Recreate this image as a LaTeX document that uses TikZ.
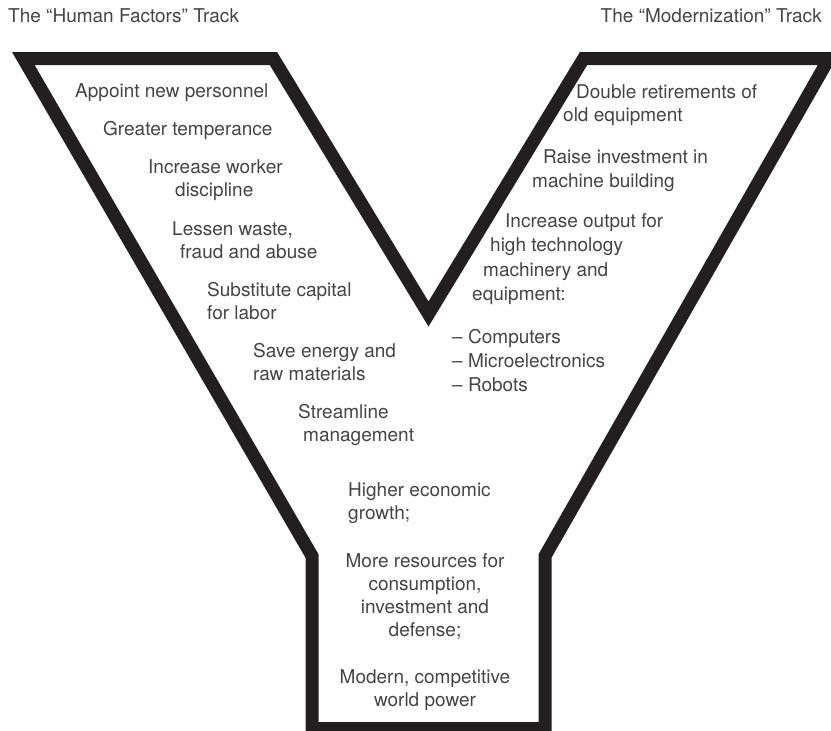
\documentclass[tikz,border=0pt]{standalone}
\usepackage{fontspec}
\setmainfont{TeX Gyre Heros}
\definecolor{band}{HTML}{231F20}
\definecolor{txt}{HTML}{444444}
\begin{document}
\begin{tikzpicture}[x=1pt,y=-1pt,
  lbl/.style={anchor=base west, inner sep=0pt, text=txt, font=\fontsize{19}{23}\selectfont},
  clbl/.style={lbl, anchor=base},
  yband/.style={draw=band, line width=13pt, line join=miter, miter limit=10}]
\useasboundingbox (0,0) rectangle (831,731);
\clip (0,0) rectangle (831,731);
% centre line of the Y outline
\coordinate (A) at (23.3,58.5);
\coordinate (H) at (273.4,58.5);
\coordinate (I) at (428.5,314);
\coordinate (J) at (583.6,58.5);
\coordinate (F) at (829,58.5);
\coordinate (E) at (545,556);
\coordinate (D) at (545,728.5);
\coordinate (C) at (312,728.5);
\coordinate (B) at (312,556);
\draw[yband] (A) -- (H) -- (I) -- (J) -- (F) -- (E) -- (D) -- (C) -- (B) -- cycle;
% titles
\node[lbl] (t1) at (8,22) {The “Human Factors” Track};
\node[lbl, anchor=base east] (t2) at (822,22) {The “Modernization” Track};
% left arm
\node[lbl] (l1) at (75,97) {Appoint new personnel};
\node[lbl] (l2) at (103,135) {Greater temperance};
\node[lbl] (l3) at (148,173) {Increase worker};
\node[lbl] (l4) at (175,196) {discipline};
\node[lbl] (l5) at (172,235) {Lessen waste,};
\node[lbl] (l6) at (180,258) {fraud and abuse};
\node[lbl] (l7) at (207,296) {Substitute capital};
\node[lbl] (l8) at (207,319) {for labor};
\node[lbl] (l9) at (253,357) {Save energy and};
\node[lbl] (l10) at (253,380) {raw materials};
\node[lbl] (l11) at (298,418) {Streamline};
\node[lbl] (l12) at (303,441) {management};
% right arm
\node[lbl] (r1) at (576,98) {Double retirements of};
\node[lbl] (r2) at (563,121) {old equipment};
\node[lbl] (r3) at (543,163) {Raise investment in};
\node[lbl] (r4) at (532,187) {machine building};
\node[lbl] (r5) at (505,227) {Increase output for};
\node[lbl] (r6) at (490,251) {high technology};
\node[lbl] (r7) at (483,276) {machinery and};
\node[lbl] (r8) at (472,300) {equipment:};
\node[lbl] (r9) at (452,343) {– Computers};
\node[lbl] (r10) at (452,367) {– Microelectronics};
\node[lbl] (r11) at (452,391) {– Robots};
% stem
\node[lbl] (s1) at (348,496) {Higher economic};
\node[lbl] (s2) at (348,519) {growth;};
\node[clbl] (s3) at (425,567) {More resources for};
\node[clbl] (s4) at (425,590) {consumption,};
\node[clbl] (s5) at (425,613) {investment and};
\node[clbl] (s6) at (425,636) {defense;};
\node[clbl] (s7) at (425,683) {Modern, competitive};
\node[clbl] (s8) at (425,706) {world power};
\end{tikzpicture}
\end{document}
